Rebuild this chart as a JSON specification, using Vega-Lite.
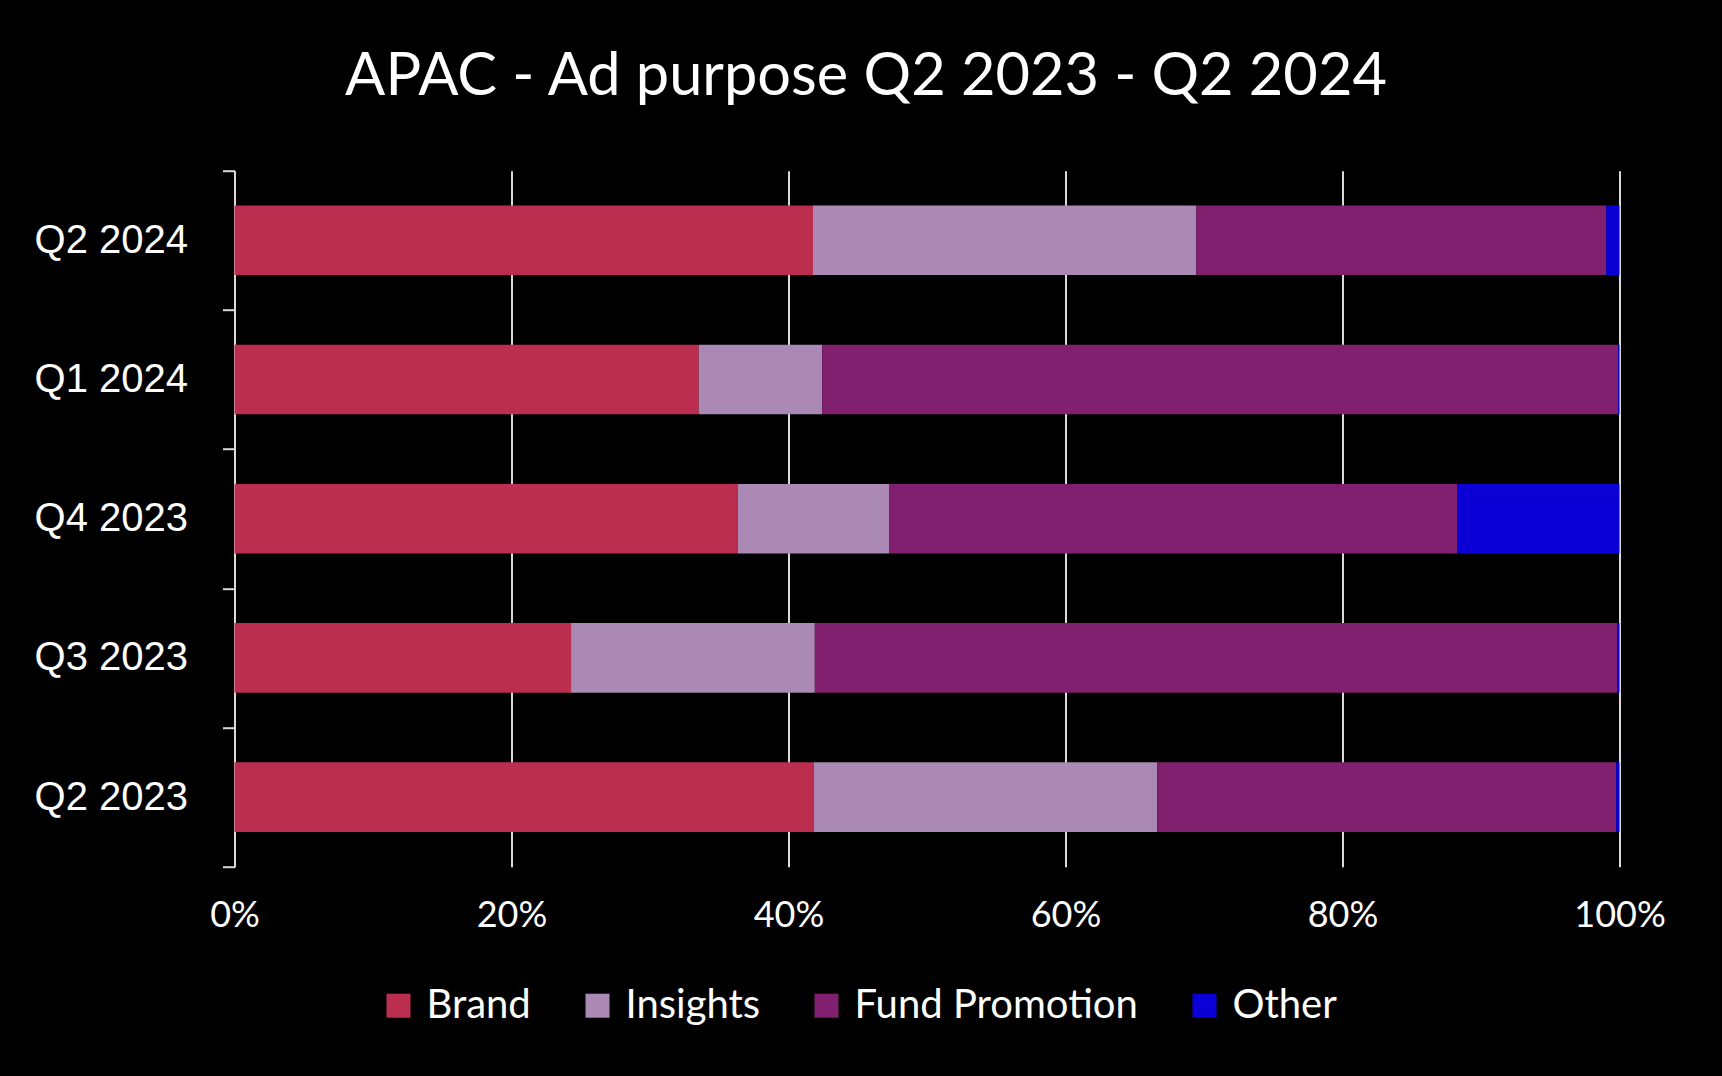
{
  "$schema": "https://vega.github.io/schema/vega-lite/v6.json",
  "width": 1385,
  "height": 696,
  "autosize": {"type": "none"},
  "padding": {"left": 234.5, "top": 170.7, "right": 102.5, "bottom": 209.3},
  "background": "#000000",
  "title": {
    "text": "APAC - Ad purpose Q2 2023 - Q2 2024",
    "font": "Lato",
    "fontSize": 59.5,
    "fontWeight": "normal",
    "color": "#ffffff",
    "anchor": "middle",
    "dx": -61,
    "dy": 62,
    "baseline": "alphabetic",
    "offset": 58
  },
  "data": {
    "values": [
      {"quarter": "Q2 2024", "purpose": "Brand", "order": 1, "share": 41.77},
      {"quarter": "Q2 2024", "purpose": "Insights", "order": 2, "share": 27.66},
      {"quarter": "Q2 2024", "purpose": "Fund Promotion", "order": 3, "share": 29.61},
      {"quarter": "Q2 2024", "purpose": "Other", "order": 4, "share": 0.96},
      {"quarter": "Q1 2024", "purpose": "Brand", "order": 1, "share": 33.52},
      {"quarter": "Q1 2024", "purpose": "Insights", "order": 2, "share": 8.91},
      {"quarter": "Q1 2024", "purpose": "Fund Promotion", "order": 3, "share": 57.47},
      {"quarter": "Q1 2024", "purpose": "Other", "order": 4, "share": 0.1},
      {"quarter": "Q4 2023", "purpose": "Brand", "order": 1, "share": 36.34},
      {"quarter": "Q4 2023", "purpose": "Insights", "order": 2, "share": 10.92},
      {"quarter": "Q4 2023", "purpose": "Fund Promotion", "order": 3, "share": 41.02},
      {"quarter": "Q4 2023", "purpose": "Other", "order": 4, "share": 11.72},
      {"quarter": "Q3 2023", "purpose": "Brand", "order": 1, "share": 24.3},
      {"quarter": "Q3 2023", "purpose": "Insights", "order": 2, "share": 17.6},
      {"quarter": "Q3 2023", "purpose": "Fund Promotion", "order": 3, "share": 57.95},
      {"quarter": "Q3 2023", "purpose": "Other", "order": 4, "share": 0.15},
      {"quarter": "Q2 2023", "purpose": "Brand", "order": 1, "share": 41.83},
      {"quarter": "Q2 2023", "purpose": "Insights", "order": 2, "share": 24.79},
      {"quarter": "Q2 2023", "purpose": "Fund Promotion", "order": 3, "share": 33.14},
      {"quarter": "Q2 2023", "purpose": "Other", "order": 4, "share": 0.24}
    ]
  },
  "mark": {"type": "bar", "height": {"band": 0.5}},
  "encoding": {
    "y": {
      "field": "quarter",
      "type": "nominal",
      "sort": ["Q2 2024", "Q1 2024", "Q4 2023", "Q3 2023", "Q2 2023"],
      "scale": {"paddingInner": 0, "paddingOuter": 0},
      "axis": {
        "title": null,
        "tickBand": "extent",
        "domainColor": "#d9d9d9",
        "domainWidth": 2,
        "tickColor": "#d9d9d9",
        "tickWidth": 2,
        "tickSize": 12,
        "labelPadding": 35,
        "labelColor": "#ffffff",
        "labelFont": "Liberation Sans",
        "labelFontSize": 40,
        "grid": false
      }
    },
    "x": {
      "field": "share",
      "type": "quantitative",
      "stack": "normalize",
      "scale": {"domain": [0, 1], "nice": false},
      "axis": {
        "title": null,
        "format": ".0%",
        "values": [0, 0.2, 0.4, 0.6, 0.8, 1],
        "grid": true,
        "gridColor": "#d9d9d9",
        "gridWidth": 2,
        "domain": false,
        "ticks": false,
        "labelFlush": false,
        "labelPadding": 32,
        "labelColor": "#ffffff",
        "labelFont": "Lato",
        "labelFontSize": 36
      }
    },
    "color": {
      "field": "purpose",
      "type": "nominal",
      "sort": ["Brand", "Insights", "Fund Promotion", "Other"],
      "scale": {
        "domain": ["Brand", "Insights", "Fund Promotion", "Other"],
        "range": ["#bb2e50", "#aa8ab4", "#80206e", "#0a00d6"]
      },
      "legend": {
        "title": null,
        "orient": "none",
        "legendX": 144,
        "legendY": 815,
        "direction": "horizontal",
        "symbolType": "square",
        "symbolSize": 576,
        "symbolStrokeWidth": 0,
        "labelFont": "Lato",
        "labelFontSize": 40,
        "labelColor": "#ffffff",
        "labelOffset": 8,
        "columnPadding": 46,
        "labelLimit": 500
      }
    },
    "order": {"field": "order", "type": "quantitative"}
  },
  "config": {
    "view": {"stroke": null}
  }
}
